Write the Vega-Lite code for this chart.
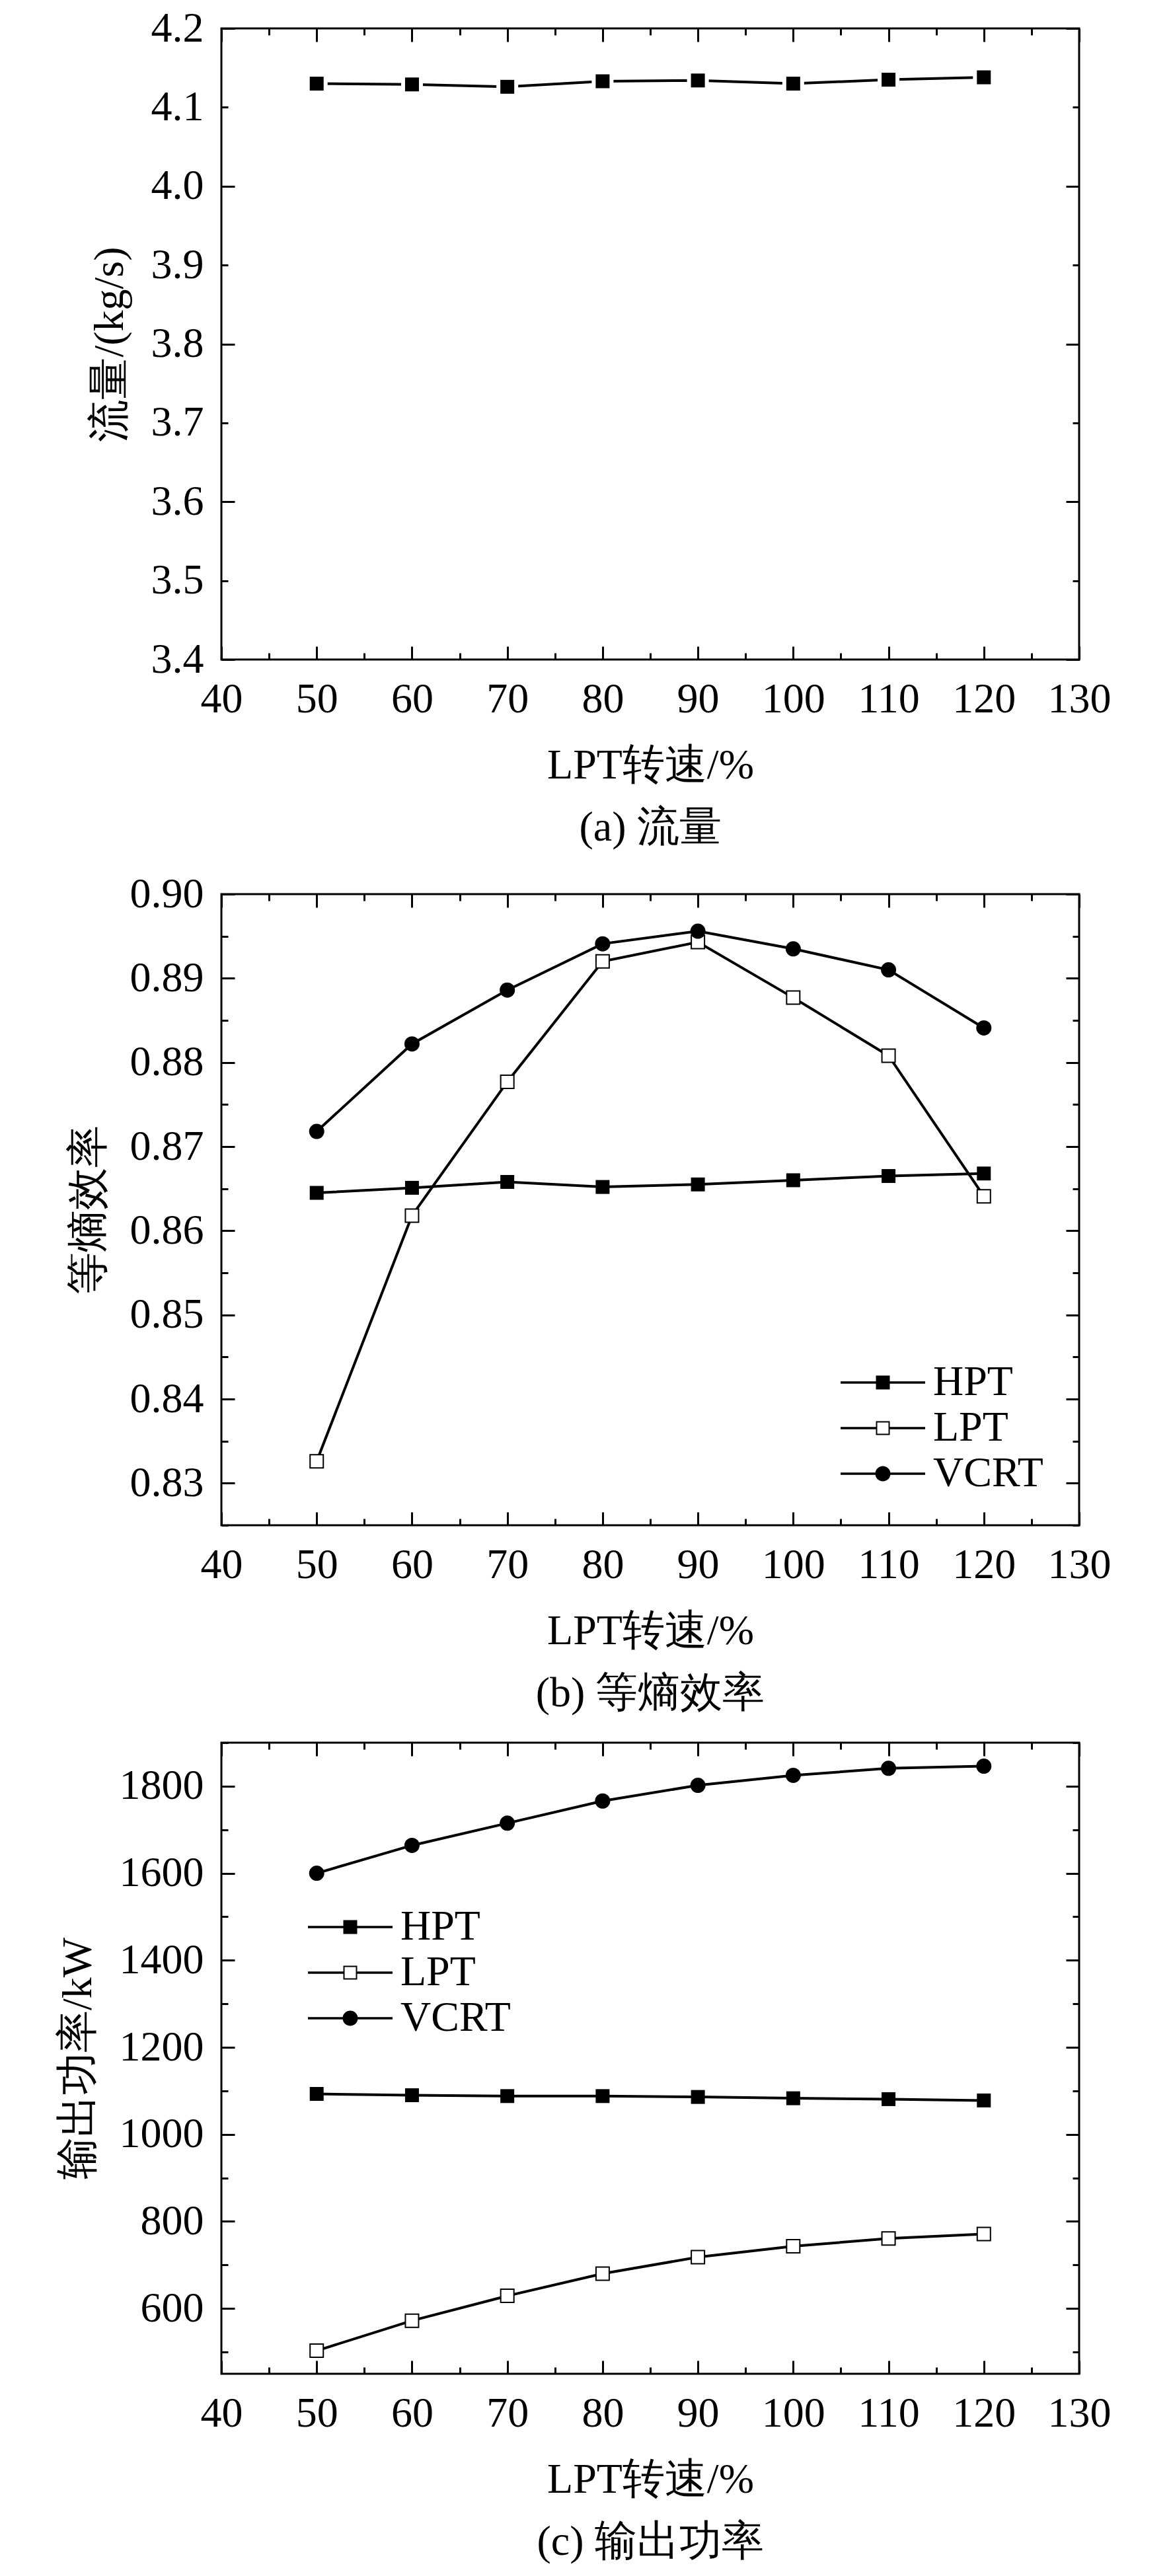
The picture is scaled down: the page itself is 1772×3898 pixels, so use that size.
{
  "$schema": "https://vega.github.io/schema/vega-lite/v6.json",
  "autosize": {"type": "none"},
  "padding": {"left": 335, "top": 43, "right": 139, "bottom": 3855},
  "background": "white",
  "bounds": "flush",
  "spacing": 355,
  "resolve": {"scale": {"shape": "independent"}, "legend": {"shape": "independent"}},
  "config": {
    "font": "Liberation Serif",
    "view": {"stroke": "black", "strokeWidth": 3},
    "axis": {
      "domain": false,
      "grid": false,
      "tickColor": "black",
      "tickWidth": 3,
      "labelColor": "black",
      "labelFontSize": 64,
      "labelFont": "Liberation Serif",
      "labelFlush": false,
      "labelOverlap": false,
      "labelBound": false,
      "titleColor": "black",
      "titleFontSize": 64,
      "titleFontWeight": "normal",
      "titleFont": "Liberation Serif"
    },
    "legend": {"labelFont": "Liberation Serif"},
    "title": {"fontSize": 64, "fontWeight": "normal", "color": "black", "font": "Liberation Serif"}
  },
  "datasets": {
    "flow": [
      {"speed": 50, "flow": 4.130},
      {"speed": 60, "flow": 4.129},
      {"speed": 70, "flow": 4.126},
      {"speed": 80, "flow": 4.133},
      {"speed": 90, "flow": 4.134},
      {"speed": 100, "flow": 4.130},
      {"speed": 110, "flow": 4.135},
      {"speed": 120, "flow": 4.138}
    ],
    "eff": [
      {"speed": 50, "series": "HPT", "value": 0.8645},
      {"speed": 60, "series": "HPT", "value": 0.8651},
      {"speed": 70, "series": "HPT", "value": 0.8658},
      {"speed": 80, "series": "HPT", "value": 0.8652},
      {"speed": 90, "series": "HPT", "value": 0.8655},
      {"speed": 100, "series": "HPT", "value": 0.8660},
      {"speed": 110, "series": "HPT", "value": 0.8665},
      {"speed": 120, "series": "HPT", "value": 0.8668},
      {"speed": 50, "series": "LPT", "value": 0.8326},
      {"speed": 60, "series": "LPT", "value": 0.8618},
      {"speed": 70, "series": "LPT", "value": 0.8777},
      {"speed": 80, "series": "LPT", "value": 0.8920},
      {"speed": 90, "series": "LPT", "value": 0.8943},
      {"speed": 100, "series": "LPT", "value": 0.8877},
      {"speed": 110, "series": "LPT", "value": 0.8808},
      {"speed": 120, "series": "LPT", "value": 0.8641},
      {"speed": 50, "series": "VCRT", "value": 0.8718},
      {"speed": 60, "series": "VCRT", "value": 0.8822},
      {"speed": 70, "series": "VCRT", "value": 0.8886},
      {"speed": 80, "series": "VCRT", "value": 0.8941},
      {"speed": 90, "series": "VCRT", "value": 0.8956},
      {"speed": 100, "series": "VCRT", "value": 0.8935},
      {"speed": 110, "series": "VCRT", "value": 0.8910},
      {"speed": 120, "series": "VCRT", "value": 0.8841}
    ],
    "power": [
      {"speed": 50, "series": "HPT", "value": 1093},
      {"speed": 60, "series": "HPT", "value": 1090},
      {"speed": 70, "series": "HPT", "value": 1088},
      {"speed": 80, "series": "HPT", "value": 1088},
      {"speed": 90, "series": "HPT", "value": 1086},
      {"speed": 100, "series": "HPT", "value": 1083},
      {"speed": 110, "series": "HPT", "value": 1081},
      {"speed": 120, "series": "HPT", "value": 1078},
      {"speed": 50, "series": "LPT", "value": 503},
      {"speed": 60, "series": "LPT", "value": 572},
      {"speed": 70, "series": "LPT", "value": 629},
      {"speed": 80, "series": "LPT", "value": 680},
      {"speed": 90, "series": "LPT", "value": 718},
      {"speed": 100, "series": "LPT", "value": 743},
      {"speed": 110, "series": "LPT", "value": 761},
      {"speed": 120, "series": "LPT", "value": 771},
      {"speed": 50, "series": "VCRT", "value": 1600},
      {"speed": 60, "series": "VCRT", "value": 1664},
      {"speed": 70, "series": "VCRT", "value": 1715},
      {"speed": 80, "series": "VCRT", "value": 1766},
      {"speed": 90, "series": "VCRT", "value": 1802},
      {"speed": 100, "series": "VCRT", "value": 1825},
      {"speed": 110, "series": "VCRT", "value": 1841},
      {"speed": 120, "series": "VCRT", "value": 1846}
    ]
  },
  "vconcat": [
    {
      "width": 1298,
      "height": 955,
      "data": {"name": "flow"},
      "title": {"text": "(a) 流量", "orient": "bottom", "anchor": "middle", "offset": 31, "font": "Liberation Serif", "fontSize": 64, "fontWeight": "normal", "color": "black"},
      "resolve": {"axis": {"x": "independent", "y": "independent"}},
      "layer": [
        {
          "mark": {"type": "line", "color": "black", "strokeWidth": 4},
          "encoding": {
            "x": {"field": "speed", "type": "quantitative", "scale": {"domain": [40, 130], "nice": false, "zero": false},
              "axis": {"orient": "bottom", "values": [40, 50, 60, 70, 80, 90, 100, 110, 120, 130], "tickSize": -20, "labelPadding": 48, "labelFont": "Liberation Serif", "labelFontSize": 64, "title": "LPT转速/%", "titleFont": "Liberation Serif", "titleFontSize": 64, "titleFontWeight": "normal", "titlePadding": 36, "offset": 0}},
            "y": {"field": "flow", "type": "quantitative", "scale": {"domain": [3.4, 4.2], "nice": false, "zero": false},
              "axis": {"orient": "left", "values": [3.4, 3.5, 3.6, 3.7, 3.8, 3.9, 4.0, 4.1, 4.2], "format": ".1f", "tickSize": -10, "labelPadding": 37, "labelFont": "Liberation Serif", "labelFontSize": 64, "title": "流量/(kg/s)", "titleFont": "Liberation Serif", "titleFontSize": 64, "titleFontWeight": "normal", "titlePadding": 30, "offset": 0}}
          }
        },
        {
          "mark": {"type": "point", "shape": "square", "filled": true, "color": "white", "size": 1089, "opacity": 1},
          "encoding": {
            "x": {"field": "speed", "type": "quantitative", "scale": {"domain": [40, 130], "nice": false, "zero": false},
              "axis": {"orient": "bottom", "values": [45, 55, 65, 75, 85, 95, 105, 115, 125], "tickSize": -10, "labels": false, "title": null, "offset": 0}},
            "y": {"field": "flow", "type": "quantitative", "scale": {"domain": [3.4, 4.2], "nice": false, "zero": false},
              "axis": {"orient": "left", "values": [3.4, 3.6, 3.8, 4.0, 4.2], "tickSize": -20, "labels": false, "title": null, "offset": 0}}
          }
        },
        {
          "mark": {"type": "point", "shape": "square", "filled": true, "color": "black", "size": 441, "opacity": 1},
          "encoding": {
            "x": {"field": "speed", "type": "quantitative", "scale": {"domain": [40, 130], "nice": false, "zero": false},
              "axis": {"orient": "top", "values": [40, 50, 60, 70, 80, 90, 100, 110, 120, 130], "tickSize": -20, "labels": false, "title": null, "offset": 0}},
            "y": {"field": "flow", "type": "quantitative", "scale": {"domain": [3.4, 4.2], "nice": false, "zero": false},
              "axis": {"orient": "right", "values": [3.4, 3.5, 3.6, 3.7, 3.8, 3.9, 4.0, 4.1, 4.2], "tickSize": -10, "labels": false, "title": null, "offset": 0}}
          }
        },
        {
          "mark": {"type": "point", "opacity": 0},
          "encoding": {
            "x": {"field": "speed", "type": "quantitative", "scale": {"domain": [40, 130], "nice": false, "zero": false},
              "axis": {"orient": "top", "values": [45, 55, 65, 75, 85, 95, 105, 115, 125], "tickSize": -10, "labels": false, "title": null, "offset": 0}},
            "y": {"field": "flow", "type": "quantitative", "scale": {"domain": [3.4, 4.2], "nice": false, "zero": false},
              "axis": {"orient": "right", "values": [3.4, 3.6, 3.8, 4.0, 4.2], "tickSize": -20, "labels": false, "title": null, "offset": 0}}
          }
        }
      ]
    },
    {
      "bounds": "flush",
      "spacing": 329,
      "resolve": {"scale": {"shape": "independent"}, "legend": {"shape": "independent"}},
      "vconcat": [
        {
          "width": 1298,
          "height": 955,
          "data": {"name": "eff"},
          "title": {"text": "(b) 等熵效率", "orient": "bottom", "anchor": "middle", "offset": 31, "font": "Liberation Serif", "fontSize": 64, "fontWeight": "normal", "color": "black"},
          "resolve": {"axis": {"x": "independent", "y": "independent"}},
          "layer": [
            {
              "mark": {"type": "line", "color": "black", "strokeWidth": 4},
              "encoding": {
                "detail": {"field": "series", "type": "nominal"},
                "x": {"field": "speed", "type": "quantitative", "scale": {"domain": [40, 130], "nice": false, "zero": false},
                  "axis": {"orient": "bottom", "values": [40, 50, 60, 70, 80, 90, 100, 110, 120, 130], "tickSize": -20, "labelPadding": 48, "labelFont": "Liberation Serif", "labelFontSize": 64, "title": "LPT转速/%", "titleFont": "Liberation Serif", "titleFontSize": 64, "titleFontWeight": "normal", "titlePadding": 36, "offset": 0}},
                "y": {"field": "value", "type": "quantitative", "scale": {"domain": [0.825, 0.9], "nice": false, "zero": false},
                  "axis": {"orient": "left", "values": [0.83, 0.84, 0.85, 0.86, 0.87, 0.88, 0.89, 0.9], "format": ".2f", "tickSize": -20, "labelPadding": 47, "labelFont": "Liberation Serif", "labelFontSize": 64, "title": "等熵效率", "titleFont": "Liberation Serif", "titleFontSize": 64, "titleFontWeight": "normal", "titlePadding": 30, "offset": 0}}
              }
            },
            {
              "transform": [{"filter": "datum.series === 'HPT'"}],
              "mark": {"type": "point", "shape": "square", "filled": true, "color": "black", "size": 441, "opacity": 1},
              "encoding": {
                "x": {"field": "speed", "type": "quantitative", "scale": {"domain": [40, 130], "nice": false, "zero": false},
                  "axis": {"orient": "bottom", "values": [45, 55, 65, 75, 85, 95, 105, 115, 125], "tickSize": -10, "labels": false, "title": null, "offset": 0}},
                "y": {"field": "value", "type": "quantitative", "scale": {"domain": [0.825, 0.9], "nice": false, "zero": false},
                  "axis": {"orient": "left", "values": [0.825, 0.835, 0.845, 0.855, 0.865, 0.875, 0.885, 0.895], "tickSize": -10, "labels": false, "title": null, "offset": 0}}
              }
            },
            {
              "transform": [{"filter": "datum.series === 'LPT'"}],
              "mark": {"type": "point", "shape": "square", "filled": true, "fill": "white", "stroke": "black", "strokeWidth": 2, "size": 400, "opacity": 1},
              "encoding": {
                "x": {"field": "speed", "type": "quantitative", "scale": {"domain": [40, 130], "nice": false, "zero": false},
                  "axis": {"orient": "top", "values": [40, 50, 60, 70, 80, 90, 100, 110, 120, 130], "tickSize": -20, "labels": false, "title": null, "offset": 0}},
                "y": {"field": "value", "type": "quantitative", "scale": {"domain": [0.825, 0.9], "nice": false, "zero": false},
                  "axis": {"orient": "right", "values": [0.83, 0.84, 0.85, 0.86, 0.87, 0.88, 0.89, 0.9], "tickSize": -20, "labels": false, "title": null, "offset": 0}}
              }
            },
            {
              "transform": [{"filter": "datum.series === 'VCRT'"}],
              "mark": {"type": "point", "shape": "circle", "filled": true, "color": "black", "size": 529, "opacity": 1},
              "encoding": {
                "x": {"field": "speed", "type": "quantitative", "scale": {"domain": [40, 130], "nice": false, "zero": false},
                  "axis": {"orient": "top", "values": [45, 55, 65, 75, 85, 95, 105, 115, 125], "tickSize": -10, "labels": false, "title": null, "offset": 0}},
                "y": {"field": "value", "type": "quantitative", "scale": {"domain": [0.825, 0.9], "nice": false, "zero": false},
                  "axis": {"orient": "right", "values": [0.825, 0.835, 0.845, 0.855, 0.865, 0.875, 0.885, 0.895], "tickSize": -10, "labels": false, "title": null, "offset": 0}}
              }
            },
            {
              "mark": {"type": "point", "filled": true, "color": "black", "opacity": 0},
              "encoding": {
                "x": {"field": "speed", "type": "quantitative", "scale": {"domain": [40, 130], "nice": false, "zero": false}, "axis": null},
                "y": {"field": "value", "type": "quantitative", "scale": {"domain": [0.825, 0.9], "nice": false, "zero": false}, "axis": null},
                "shape": {"field": "series", "type": "nominal",
                  "scale": {"domain": ["HPT", "LPT", "VCRT"], "range": [
                    "M-2,-0.056H2V0.056H-2Z M-0.328,-0.328H0.328V0.328H-0.328Z",
                    "M-2,-0.056H-0.328V0.056H-2Z M0.328,-0.056H2V0.056H0.328Z M-0.328,-0.328H0.328V0.328H-0.328Z M-0.266,-0.266V0.266H0.266V-0.266Z",
                    "M-2,-0.056H2V0.056H-2Z M0.36,0A0.36,0.36,0,1,1,-0.36,0A0.36,0.36,0,1,1,0.36,0Z"]},
                  "legend": {"orient": "none", "legendX": 969, "legendY": 707, "title": null, "padding": 0, "rowPadding": 5, "labelOffset": 44, "labelLimit": 500, "symbolSize": 4096, "symbolStrokeWidth": 0, "symbolFillColor": "black", "symbolOpacity": 1, "labelFontSize": 64, "labelColor": "black", "labelFont": "Liberation Serif"}}
              }
            }
          ]
        },
        {
          "width": 1298,
          "height": 955,
          "data": {"name": "power"},
          "title": {"text": "(c) 输出功率", "orient": "bottom", "anchor": "middle", "offset": 31, "font": "Liberation Serif", "fontSize": 64, "fontWeight": "normal", "color": "black"},
          "resolve": {"axis": {"x": "independent", "y": "independent"}},
          "layer": [
            {
              "mark": {"type": "line", "color": "black", "strokeWidth": 4},
              "encoding": {
                "detail": {"field": "series", "type": "nominal"},
                "x": {"field": "speed", "type": "quantitative", "scale": {"domain": [40, 130], "nice": false, "zero": false},
                  "axis": {"orient": "bottom", "values": [40, 50, 60, 70, 80, 90, 100, 110, 120, 130], "tickSize": -20, "labelPadding": 48, "labelFont": "Liberation Serif", "labelFontSize": 64, "title": "LPT转速/%", "titleFont": "Liberation Serif", "titleFontSize": 64, "titleFontWeight": "normal", "titlePadding": 36, "offset": 0}},
                "y": {"field": "value", "type": "quantitative", "scale": {"domain": [450, 1900], "nice": false, "zero": false},
                  "axis": {"orient": "left", "values": [600, 800, 1000, 1200, 1400, 1600, 1800], "format": "d", "tickSize": -20, "labelPadding": 47, "labelFont": "Liberation Serif", "labelFontSize": 64, "title": "输出功率/kW", "titleFont": "Liberation Serif", "titleFontSize": 64, "titleFontWeight": "normal", "titlePadding": 30, "offset": 0}}
              }
            },
            {
              "transform": [{"filter": "datum.series === 'HPT'"}],
              "mark": {"type": "point", "shape": "square", "filled": true, "color": "black", "size": 441, "opacity": 1},
              "encoding": {
                "x": {"field": "speed", "type": "quantitative", "scale": {"domain": [40, 130], "nice": false, "zero": false},
                  "axis": {"orient": "bottom", "values": [45, 55, 65, 75, 85, 95, 105, 115, 125], "tickSize": -10, "labels": false, "title": null, "offset": 0}},
                "y": {"field": "value", "type": "quantitative", "scale": {"domain": [450, 1900], "nice": false, "zero": false},
                  "axis": {"orient": "left", "values": [500, 700, 900, 1100, 1300, 1500, 1700, 1900], "tickSize": -10, "labels": false, "title": null, "offset": 0}}
              }
            },
            {
              "transform": [{"filter": "datum.series === 'LPT'"}],
              "mark": {"type": "point", "shape": "square", "filled": true, "fill": "white", "stroke": "black", "strokeWidth": 2, "size": 400, "opacity": 1},
              "encoding": {
                "x": {"field": "speed", "type": "quantitative", "scale": {"domain": [40, 130], "nice": false, "zero": false},
                  "axis": {"orient": "top", "values": [40, 50, 60, 70, 80, 90, 100, 110, 120, 130], "tickSize": -20, "labels": false, "title": null, "offset": 0}},
                "y": {"field": "value", "type": "quantitative", "scale": {"domain": [450, 1900], "nice": false, "zero": false},
                  "axis": {"orient": "right", "values": [600, 800, 1000, 1200, 1400, 1600, 1800], "tickSize": -20, "labels": false, "title": null, "offset": 0}}
              }
            },
            {
              "transform": [{"filter": "datum.series === 'VCRT'"}],
              "mark": {"type": "point", "shape": "circle", "filled": true, "color": "black", "size": 529, "opacity": 1},
              "encoding": {
                "x": {"field": "speed", "type": "quantitative", "scale": {"domain": [40, 130], "nice": false, "zero": false},
                  "axis": {"orient": "top", "values": [45, 55, 65, 75, 85, 95, 105, 115, 125], "tickSize": -10, "labels": false, "title": null, "offset": 0}},
                "y": {"field": "value", "type": "quantitative", "scale": {"domain": [450, 1900], "nice": false, "zero": false},
                  "axis": {"orient": "right", "values": [500, 700, 900, 1100, 1300, 1500, 1700, 1900], "tickSize": -10, "labels": false, "title": null, "offset": 0}}
              }
            },
            {
              "mark": {"type": "point", "filled": true, "color": "black", "opacity": 0},
              "encoding": {
                "x": {"field": "speed", "type": "quantitative", "scale": {"domain": [40, 130], "nice": false, "zero": false}, "axis": null},
                "y": {"field": "value", "type": "quantitative", "scale": {"domain": [450, 1900], "nice": false, "zero": false}, "axis": null},
                "shape": {"field": "series", "type": "nominal",
                  "scale": {"domain": ["HPT", "LPT", "VCRT"], "range": [
                    "M-2,-0.056H2V0.056H-2Z M-0.328,-0.328H0.328V0.328H-0.328Z",
                    "M-2,-0.056H-0.328V0.056H-2Z M0.328,-0.056H2V0.056H0.328Z M-0.328,-0.328H0.328V0.328H-0.328Z M-0.266,-0.266V0.266H0.266V-0.266Z",
                    "M-2,-0.056H2V0.056H-2Z M0.36,0A0.36,0.36,0,1,1,-0.36,0A0.36,0.36,0,1,1,0.36,0Z"]},
                  "legend": {"orient": "none", "legendX": 163, "legendY": 247, "title": null, "padding": 0, "rowPadding": 5, "labelOffset": 44, "labelLimit": 500, "symbolSize": 4096, "symbolStrokeWidth": 0, "symbolFillColor": "black", "symbolOpacity": 1, "labelFontSize": 64, "labelColor": "black", "labelFont": "Liberation Serif"}}
              }
            }
          ]
        }
      ]
    }
  ]
}
